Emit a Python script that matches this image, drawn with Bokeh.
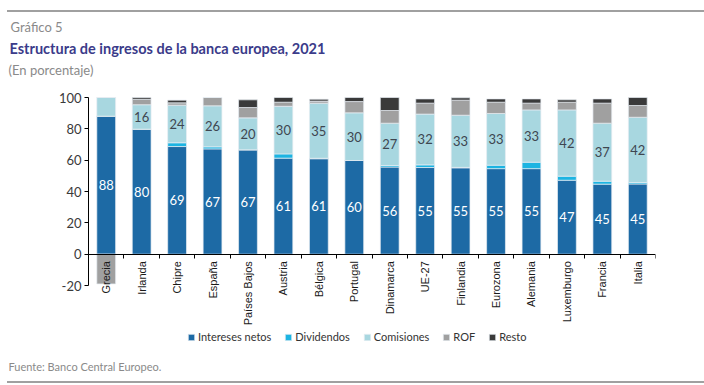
import numpy as np
from bokeh.plotting import figure
from bokeh.models import (ColumnDataSource, FixedTicker, Legend, LegendItem, Title,
                          CustomJSTickFormatter, InlineStyleSheet)
from bokeh.core.properties import value
from bokeh.embed import file_html
from bokeh.resources import INLINE

countries = ["Grecia", "Irlanda", "Chipre", "España", "Países Bajos", "Austria", "Bélgica",
             "Portugal", "Dinamarca", "UE-27", "Finlandia", "Eurozona", "Alemania",
             "Luxemburgo", "Francia", "Italia"]
intereses = [88.1, 79.8, 68.7, 67.2, 66.6, 61.3, 60.9, 59.8, 55.6, 55.3, 55.1, 54.6, 54.6, 47.2, 44.7, 44.8]
dividendos = [0.0, 0.0, 2.4, 1.3, 0.0, 2.7, 0.3, 0.0, 1.0, 1.7, 0.3, 2.2, 4.1, 2.6, 1.9, 0.9]
comisiones = [11.9, 15.6, 24.0, 26.2, 20.4, 30.4, 35.2, 30.4, 27.0, 32.4, 33.3, 33.0, 33.4, 42.3, 37.0, 41.7]
rof = [-19.0, 3.5, 1.5, 5.3, 6.6, 2.6, 1.3, 7.2, 8.1, 7.0, 9.6, 7.2, 4.3, 4.9, 12.8, 7.5]
resto = [0.0, 1.1, 1.7, 0.0, 4.9, 3.0, 1.2, 2.6, 8.3, 2.7, 1.5, 2.1, 2.7, 1.5, 2.7, 5.1]

series_names = ["Intereses netos", "Dividendos", "Comisiones", "ROF", "Resto"]
series_values = [intereses, dividendos, comisiones, rof, resto]
series_colors = ["#1d6aa5", "#1cb4e2", "#a8d7e0", "#a0a0a0", "#3a3a3a"]
yticks = [-20, 0, 20, 40, 60, 80, 100]
y_axis_min, y_axis_max = -20, 100

W, H = 704, 385
FL, FR, FT, FB = 88, 655, 78, 345          # frame edges (px)
Y100, YM20 = 97, 285                        # pixel rows of the axis ends
px_per_unit = (YM20 - Y100) / (y_axis_max - y_axis_min)
y_end = y_axis_max + (Y100 - FT) / px_per_unit
y_start = y_axis_min - (FB - YM20) / px_per_unit

p = figure(width=W, height=H, x_range=(-0.5, len(countries) - 0.5), y_range=(y_start, y_end),
           output_backend="svg", toolbar_location=None,
           min_border_left=FL, min_border_right=W - FR, min_border_top=FT, min_border_bottom=H - FB)
p.outline_line_color = None
p.xgrid.visible = False
p.ygrid.visible = False
p.background_fill_color = "white"
p.border_fill_color = "white"

idx = np.arange(len(countries))
pos = np.zeros(len(countries))
neg = np.zeros(len(countries))
renderers = []
stack = {}
for name, vals, col in zip(series_names, series_values, series_colors):
    v = np.array(vals, dtype=float)
    bottom = np.where(v >= 0, pos, neg)
    top = bottom + v
    pos = np.where(v >= 0, top, pos)
    neg = np.where(v < 0, top, neg)
    stack[name] = (bottom, top, v)
    src = ColumnDataSource(dict(x=idx, bottom=bottom, top=top))
    r = p.vbar(x="x", bottom="bottom", top="top", width=0.53, source=src,
               fill_color=col, line_color="#e6edf2", line_width=0.7)
    renderers.append(r)

# value labels
b, t, v = stack["Intereses netos"]
lab_src = ColumnDataSource(dict(x=idx, y=(b + t) / 2, text=["%.0f" % x for x in v]))
p.text(x="x", y="y", text="text", source=lab_src, text_color="white",
       text_font=value("Lato"), text_font_size="13px", text_align="center",
       text_baseline="middle")
b, t, v = stack["Comisiones"]
keep = v >= 15
lab_src2 = ColumnDataSource(dict(x=idx[keep], y=((b + t) / 2)[keep],
                                 text=["%.0f" % x for x in v[keep]]))
p.text(x="x", y="y", text="text", source=lab_src2, text_color="#3e4650",
       text_font=value("Lato"), text_font_size="13px", text_align="center",
       text_baseline="middle")

# category labels (rotated, below the zero line)
cat_src = ColumnDataSource(dict(x=idx, y=np.zeros(len(countries)), text=countries))
p.text(x="x", y="y", text="text", source=cat_src, angle=np.pi / 2, text_align="right",
       text_baseline="middle", y_offset=7, text_color="#1a1a1a",
       text_font=value("Liberation Sans"), text_font_size="11px")

# axes
xa = p.xaxis[0]
xa.fixed_location = 0
xa.ticker = FixedTicker(ticks=[i - 0.5 for i in range(len(countries) + 1)])
xa.formatter = CustomJSTickFormatter(code="return ''")
xa.major_label_standoff = 0
xa.major_tick_in = 0
xa.major_tick_out = 4
xa.minor_tick_line_color = None
xa.axis_line_color = "black"
xa.major_tick_line_color = "black"

ya = p.yaxis[0]
ya.ticker = FixedTicker(ticks=yticks)
ya.bounds = (y_axis_min, y_axis_max)
ya.major_label_overrides = {t: str(t) for t in yticks}
ya.major_tick_in = 0
ya.major_tick_out = 4
ya.minor_tick_line_color = None
ya.axis_line_color = "black"
ya.major_tick_line_color = "black"
ya.major_label_text_font = "Lato"
ya.major_label_text_font_size = "13px"
ya.major_label_text_color = "#3a3a3a"
ya.major_label_standoff = 3

# legend (inside the frame, under the category labels)
legend = Legend(items=[LegendItem(label=n, renderers=[r]) for n, r in zip(series_names, renderers)],
                orientation="horizontal", location=(99, 2), glyph_width=8, glyph_height=8,
                label_text_font="Lato", label_text_font_size="11px",
                label_text_color="#333333", label_standoff=3, spacing=13, padding=0,
                border_line_color=None, background_fill_alpha=0, margin=0)
p.add_layout(legend)

# header (stacked upward from the frame) and footer
p.add_layout(Title(text="(En porcentaje)", align="left", offset=-80, standoff=2,
                   text_font="Lato", text_font_size="13px", text_font_style="normal",
                   text_color="#8a8a8a"), "above")
p.add_layout(Title(text="Estructura de ingresos de la banca europea, 2021", align="left",
                   offset=-79, standoff=4, text_font="Lato",
                   text_font_size="14.5px", text_font_style="bold", text_color="#3b3b8a"), "above")
p.add_layout(Title(text="Gráfico 5", align="left", offset=-78, standoff=2,
                   text_font="Lato", text_font_size="13px", text_font_style="normal",
                   text_color="#8a8a8a"), "above")
p.add_layout(Title(text="Fuente: Banco Central Europeo.", align="left", offset=-80, standoff=24,
                   text_font="Lato", text_font_size="11px", text_font_style="normal",
                   text_color="#8a8a8a"), "below")

# decorative rules (top and bottom)
p.stylesheets = [InlineStyleSheet(css="""
:host { position: relative; }
:host::before, :host::after {
  content: ''; position: absolute; left: 7px; right: 0; height: 1.5px;
  background: #a0a0a0; z-index: 5; pointer-events: none;
}
:host::before { top: 10px; }
:host::after { top: 381px; }
""")]

open("out.html", "w").write(file_html(p, INLINE))
